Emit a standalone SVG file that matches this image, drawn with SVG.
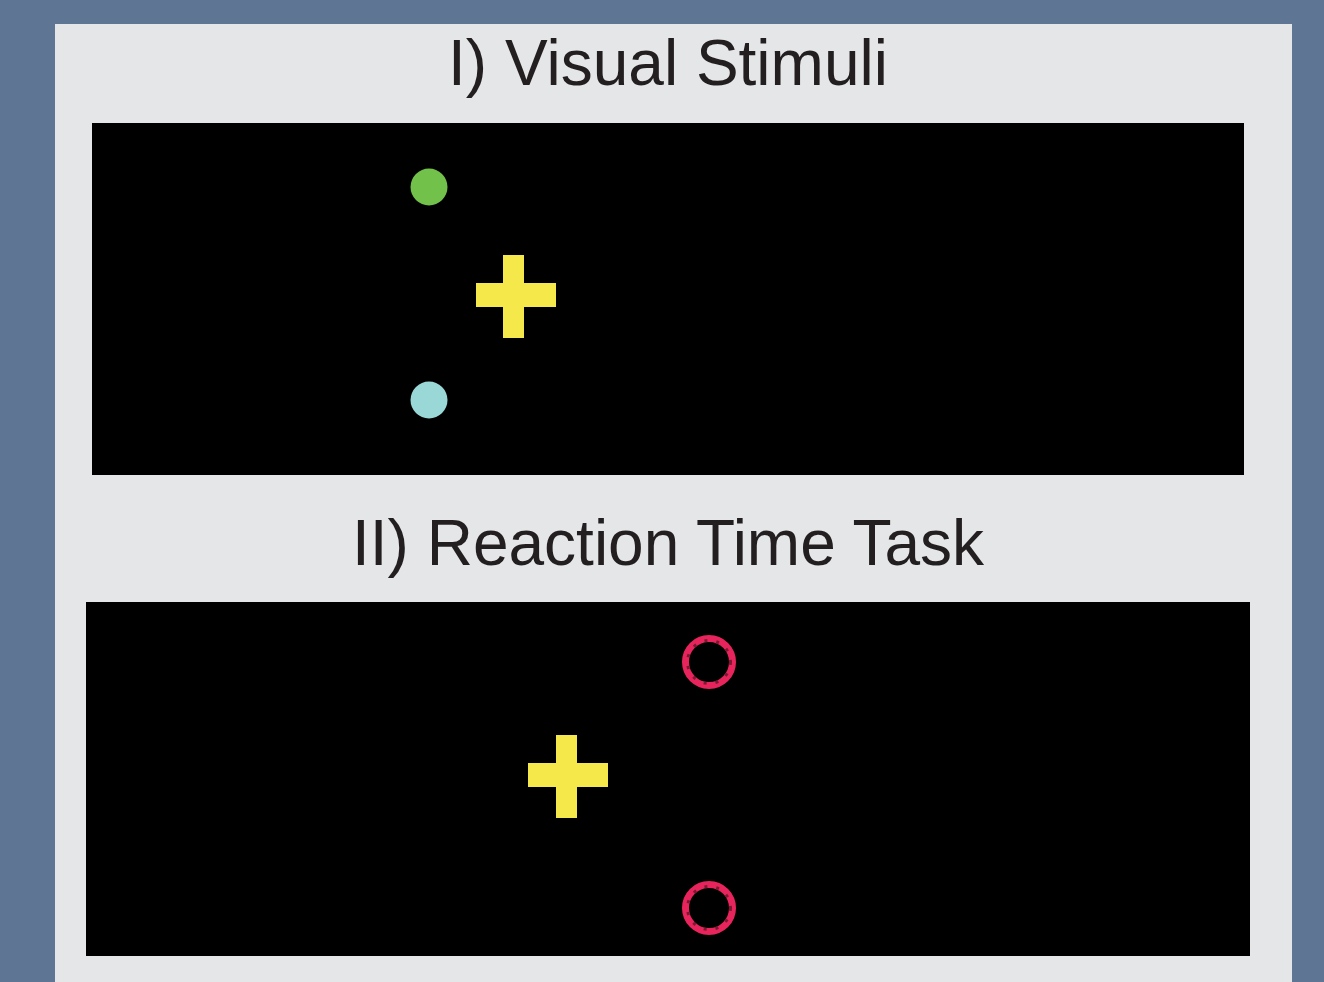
<svg xmlns="http://www.w3.org/2000/svg" width="1324" height="982" viewBox="0 0 1324 982">
<style>
.title{font-family:"Liberation Sans",Arial,sans-serif;font-size:64px;fill:#231f20;text-anchor:middle}
.cross{fill:#f5e84b}
.ring{fill:none;stroke:#e8245c;stroke-width:7}
.ring-speck{fill:none;stroke:#7a1a30;stroke-width:3;stroke-dasharray:3 9}
</style>
<rect width="1324" height="982" fill="#5f7594"/>
<rect x="55" y="24" width="1237" height="958" fill="#e5e6e8"/>
<g id="panel1">
<text class="title" x="668" y="85">I) Visual Stimuli</text>
<rect x="92" y="123" width="1152" height="352" fill="#000"/>
<circle id="green-dot" cx="429" cy="187" r="18.5" fill="#72c14b"/>
<circle id="cyan-dot" cx="429" cy="400" r="18.5" fill="#9ad8d8"/>
<g id="cross1" class="cross">
<rect x="503" y="255" width="21" height="83"/>
<rect x="476" y="283" width="80" height="24"/>
</g>
</g>
<g id="panel2">
<text class="title" x="668" y="565">II) Reaction Time Task</text>
<rect x="86" y="602" width="1164" height="354" fill="#000"/>
<g id="cross2" class="cross">
<rect x="556" y="735" width="21" height="83"/>
<rect x="528" y="763" width="80" height="24"/>
</g>
<g id="ring-top">
<circle class="ring" cx="709" cy="662" r="23.5"/>
<circle class="ring-speck" cx="709" cy="662" r="21.5"/>
</g>
<g id="ring-bottom">
<circle class="ring" cx="709" cy="908" r="23.5"/>
<circle class="ring-speck" cx="709" cy="908" r="21.5"/>
</g>
</g>
</svg>
